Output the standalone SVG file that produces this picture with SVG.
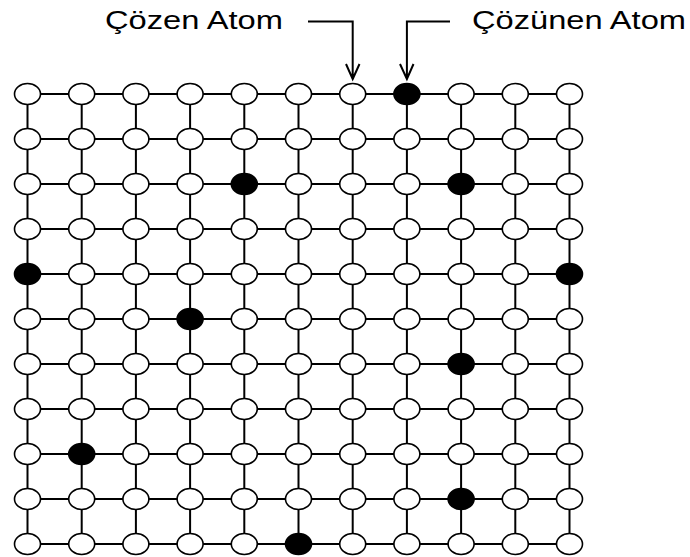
<svg xmlns="http://www.w3.org/2000/svg" width="690" height="557" viewBox="0 0 690 557">
<style>
.w{fill:#fff;stroke:#000;stroke-width:1.6}
.b{fill:#000;stroke:#000;stroke-width:1.6}
.ln{stroke:#000;stroke-width:2;fill:none}
.t{font-family:"Liberation Sans",Arial,sans-serif;font-size:25px;fill:#000}
</style>
<rect width="690" height="557" fill="#fff"/>
<g id="labels">
<text class="t" x="105" y="29" textLength="178" lengthAdjust="spacingAndGlyphs">Çözen Atom</text>
<text class="t" x="472" y="29" textLength="214" lengthAdjust="spacingAndGlyphs">Çözünen Atom</text>
</g>
<g id="connectors" class="ln">
<path d="M308,21.5 H352.7 V79 M346,64 L352.7,79 L359.5,64"/>
<path d="M450,21.5 H406.9 V79 M400,64 L406.9,79 L413.5,64"/>
<path d="M27.5,94H569.5M27.5,139H569.5M27.5,184H569.5M27.5,229H569.5M27.5,274H569.5M27.5,319H569.5M27.5,364H569.5M27.5,409H569.5M27.5,454H569.5M27.5,499H569.5M27.5,544H569.5"/>
<path d="M27.5,94V544M81.7,94V544M135.9,94V544M190.1,94V544M244.3,94V544M298.5,94V544M352.7,94V544M406.9,94V544M461.1,94V544M515.3,94V544M569.5,94V544"/>
</g>
<defs><ellipse id="e" cx="0" cy="0" rx="13" ry="10.5"/></defs>
<g id="nodes">
<g id="r0c0"><use href="#e" class="w" x="27.5" y="94"/></g>
<g id="r0c1"><use href="#e" class="w" x="81.7" y="94"/></g>
<g id="r0c2"><use href="#e" class="w" x="135.9" y="94"/></g>
<g id="r0c3"><use href="#e" class="w" x="190.1" y="94"/></g>
<g id="r0c4"><use href="#e" class="w" x="244.3" y="94"/></g>
<g id="r0c5"><use href="#e" class="w" x="298.5" y="94"/></g>
<g id="r0c6"><use href="#e" class="w" x="352.7" y="94"/></g>
<g id="r0c7"><use href="#e" class="b" x="406.9" y="94"/></g>
<g id="r0c8"><use href="#e" class="w" x="461.1" y="94"/></g>
<g id="r0c9"><use href="#e" class="w" x="515.3" y="94"/></g>
<g id="r0c10"><use href="#e" class="w" x="569.5" y="94"/></g>
<g id="r1c0"><use href="#e" class="w" x="27.5" y="139"/></g>
<g id="r1c1"><use href="#e" class="w" x="81.7" y="139"/></g>
<g id="r1c2"><use href="#e" class="w" x="135.9" y="139"/></g>
<g id="r1c3"><use href="#e" class="w" x="190.1" y="139"/></g>
<g id="r1c4"><use href="#e" class="w" x="244.3" y="139"/></g>
<g id="r1c5"><use href="#e" class="w" x="298.5" y="139"/></g>
<g id="r1c6"><use href="#e" class="w" x="352.7" y="139"/></g>
<g id="r1c7"><use href="#e" class="w" x="406.9" y="139"/></g>
<g id="r1c8"><use href="#e" class="w" x="461.1" y="139"/></g>
<g id="r1c9"><use href="#e" class="w" x="515.3" y="139"/></g>
<g id="r1c10"><use href="#e" class="w" x="569.5" y="139"/></g>
<g id="r2c0"><use href="#e" class="w" x="27.5" y="184"/></g>
<g id="r2c1"><use href="#e" class="w" x="81.7" y="184"/></g>
<g id="r2c2"><use href="#e" class="w" x="135.9" y="184"/></g>
<g id="r2c3"><use href="#e" class="w" x="190.1" y="184"/></g>
<g id="r2c4"><use href="#e" class="b" x="244.3" y="184"/></g>
<g id="r2c5"><use href="#e" class="w" x="298.5" y="184"/></g>
<g id="r2c6"><use href="#e" class="w" x="352.7" y="184"/></g>
<g id="r2c7"><use href="#e" class="w" x="406.9" y="184"/></g>
<g id="r2c8"><use href="#e" class="b" x="461.1" y="184"/></g>
<g id="r2c9"><use href="#e" class="w" x="515.3" y="184"/></g>
<g id="r2c10"><use href="#e" class="w" x="569.5" y="184"/></g>
<g id="r3c0"><use href="#e" class="w" x="27.5" y="229"/></g>
<g id="r3c1"><use href="#e" class="w" x="81.7" y="229"/></g>
<g id="r3c2"><use href="#e" class="w" x="135.9" y="229"/></g>
<g id="r3c3"><use href="#e" class="w" x="190.1" y="229"/></g>
<g id="r3c4"><use href="#e" class="w" x="244.3" y="229"/></g>
<g id="r3c5"><use href="#e" class="w" x="298.5" y="229"/></g>
<g id="r3c6"><use href="#e" class="w" x="352.7" y="229"/></g>
<g id="r3c7"><use href="#e" class="w" x="406.9" y="229"/></g>
<g id="r3c8"><use href="#e" class="w" x="461.1" y="229"/></g>
<g id="r3c9"><use href="#e" class="w" x="515.3" y="229"/></g>
<g id="r3c10"><use href="#e" class="w" x="569.5" y="229"/></g>
<g id="r4c0"><use href="#e" class="b" x="27.5" y="274"/></g>
<g id="r4c1"><use href="#e" class="w" x="81.7" y="274"/></g>
<g id="r4c2"><use href="#e" class="w" x="135.9" y="274"/></g>
<g id="r4c3"><use href="#e" class="w" x="190.1" y="274"/></g>
<g id="r4c4"><use href="#e" class="w" x="244.3" y="274"/></g>
<g id="r4c5"><use href="#e" class="w" x="298.5" y="274"/></g>
<g id="r4c6"><use href="#e" class="w" x="352.7" y="274"/></g>
<g id="r4c7"><use href="#e" class="w" x="406.9" y="274"/></g>
<g id="r4c8"><use href="#e" class="w" x="461.1" y="274"/></g>
<g id="r4c9"><use href="#e" class="w" x="515.3" y="274"/></g>
<g id="r4c10"><use href="#e" class="b" x="569.5" y="274"/></g>
<g id="r5c0"><use href="#e" class="w" x="27.5" y="319"/></g>
<g id="r5c1"><use href="#e" class="w" x="81.7" y="319"/></g>
<g id="r5c2"><use href="#e" class="w" x="135.9" y="319"/></g>
<g id="r5c3"><use href="#e" class="b" x="190.1" y="319"/></g>
<g id="r5c4"><use href="#e" class="w" x="244.3" y="319"/></g>
<g id="r5c5"><use href="#e" class="w" x="298.5" y="319"/></g>
<g id="r5c6"><use href="#e" class="w" x="352.7" y="319"/></g>
<g id="r5c7"><use href="#e" class="w" x="406.9" y="319"/></g>
<g id="r5c8"><use href="#e" class="w" x="461.1" y="319"/></g>
<g id="r5c9"><use href="#e" class="w" x="515.3" y="319"/></g>
<g id="r5c10"><use href="#e" class="w" x="569.5" y="319"/></g>
<g id="r6c0"><use href="#e" class="w" x="27.5" y="364"/></g>
<g id="r6c1"><use href="#e" class="w" x="81.7" y="364"/></g>
<g id="r6c2"><use href="#e" class="w" x="135.9" y="364"/></g>
<g id="r6c3"><use href="#e" class="w" x="190.1" y="364"/></g>
<g id="r6c4"><use href="#e" class="w" x="244.3" y="364"/></g>
<g id="r6c5"><use href="#e" class="w" x="298.5" y="364"/></g>
<g id="r6c6"><use href="#e" class="w" x="352.7" y="364"/></g>
<g id="r6c7"><use href="#e" class="w" x="406.9" y="364"/></g>
<g id="r6c8"><use href="#e" class="b" x="461.1" y="364"/></g>
<g id="r6c9"><use href="#e" class="w" x="515.3" y="364"/></g>
<g id="r6c10"><use href="#e" class="w" x="569.5" y="364"/></g>
<g id="r7c0"><use href="#e" class="w" x="27.5" y="409"/></g>
<g id="r7c1"><use href="#e" class="w" x="81.7" y="409"/></g>
<g id="r7c2"><use href="#e" class="w" x="135.9" y="409"/></g>
<g id="r7c3"><use href="#e" class="w" x="190.1" y="409"/></g>
<g id="r7c4"><use href="#e" class="w" x="244.3" y="409"/></g>
<g id="r7c5"><use href="#e" class="w" x="298.5" y="409"/></g>
<g id="r7c6"><use href="#e" class="w" x="352.7" y="409"/></g>
<g id="r7c7"><use href="#e" class="w" x="406.9" y="409"/></g>
<g id="r7c8"><use href="#e" class="w" x="461.1" y="409"/></g>
<g id="r7c9"><use href="#e" class="w" x="515.3" y="409"/></g>
<g id="r7c10"><use href="#e" class="w" x="569.5" y="409"/></g>
<g id="r8c0"><use href="#e" class="w" x="27.5" y="454"/></g>
<g id="r8c1"><use href="#e" class="b" x="81.7" y="454"/></g>
<g id="r8c2"><use href="#e" class="w" x="135.9" y="454"/></g>
<g id="r8c3"><use href="#e" class="w" x="190.1" y="454"/></g>
<g id="r8c4"><use href="#e" class="w" x="244.3" y="454"/></g>
<g id="r8c5"><use href="#e" class="w" x="298.5" y="454"/></g>
<g id="r8c6"><use href="#e" class="w" x="352.7" y="454"/></g>
<g id="r8c7"><use href="#e" class="w" x="406.9" y="454"/></g>
<g id="r8c8"><use href="#e" class="w" x="461.1" y="454"/></g>
<g id="r8c9"><use href="#e" class="w" x="515.3" y="454"/></g>
<g id="r8c10"><use href="#e" class="w" x="569.5" y="454"/></g>
<g id="r9c0"><use href="#e" class="w" x="27.5" y="499"/></g>
<g id="r9c1"><use href="#e" class="w" x="81.7" y="499"/></g>
<g id="r9c2"><use href="#e" class="w" x="135.9" y="499"/></g>
<g id="r9c3"><use href="#e" class="w" x="190.1" y="499"/></g>
<g id="r9c4"><use href="#e" class="w" x="244.3" y="499"/></g>
<g id="r9c5"><use href="#e" class="w" x="298.5" y="499"/></g>
<g id="r9c6"><use href="#e" class="w" x="352.7" y="499"/></g>
<g id="r9c7"><use href="#e" class="w" x="406.9" y="499"/></g>
<g id="r9c8"><use href="#e" class="b" x="461.1" y="499"/></g>
<g id="r9c9"><use href="#e" class="w" x="515.3" y="499"/></g>
<g id="r9c10"><use href="#e" class="w" x="569.5" y="499"/></g>
<g id="r10c0"><use href="#e" class="w" x="27.5" y="544"/></g>
<g id="r10c1"><use href="#e" class="w" x="81.7" y="544"/></g>
<g id="r10c2"><use href="#e" class="w" x="135.9" y="544"/></g>
<g id="r10c3"><use href="#e" class="w" x="190.1" y="544"/></g>
<g id="r10c4"><use href="#e" class="w" x="244.3" y="544"/></g>
<g id="r10c5"><use href="#e" class="b" x="298.5" y="544"/></g>
<g id="r10c6"><use href="#e" class="w" x="352.7" y="544"/></g>
<g id="r10c7"><use href="#e" class="w" x="406.9" y="544"/></g>
<g id="r10c8"><use href="#e" class="w" x="461.1" y="544"/></g>
<g id="r10c9"><use href="#e" class="w" x="515.3" y="544"/></g>
<g id="r10c10"><use href="#e" class="w" x="569.5" y="544"/></g>
</g>
</svg>
